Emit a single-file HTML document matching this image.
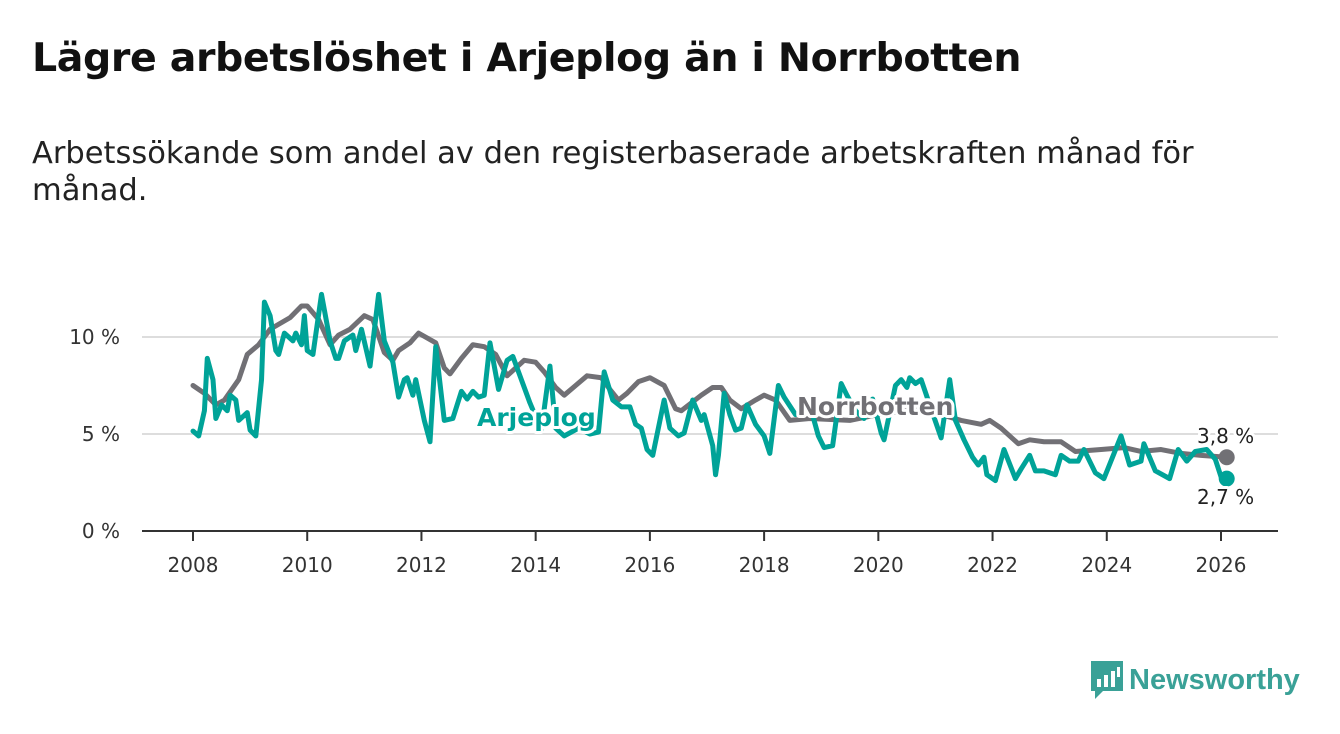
<!DOCTYPE html>
<html><head><meta charset="utf-8"><style>
body{margin:0;background:#fff;width:1340px;height:734px;overflow:hidden;font-family:"Liberation Sans","DejaVu Sans",sans-serif}
h1{position:absolute;left:32px;top:35px;margin:0;font-size:39.5px;font-weight:bold;color:#111;font-family:"DejaVu Sans",sans-serif;letter-spacing:-0.4px}
p{position:absolute;left:32px;top:135px;margin:0;font-size:30.5px;line-height:37px;color:#222;width:1220px;font-family:"DejaVu Sans",sans-serif}
</style></head><body>
<h1>Lägre arbetslöshet i Arjeplog än i Norrbotten</h1>
<p>Arbetssökande som andel av den registerbaserade arbetskraften månad för månad.</p>
<svg id="chart" width="1340" height="734" style="position:absolute;left:0;top:0" font-family="DejaVu Sans, sans-serif"></svg>
<div style="position:absolute;left:1089px;top:660px;height:40px;display:flex;align-items:center">
<svg width="36" height="42" viewBox="0 0 36 42"><path d="M2 2h32v30H14l-8 8v-8H2z" fill="#3aa197"/><rect x="8" y="20" width="4" height="8" fill="#fff"/><rect x="15" y="16" width="4" height="12" fill="#fff"/><rect x="22" y="12" width="4" height="16" fill="#fff"/><rect x="28" y="8" width="3" height="10" fill="#fff"/></svg>
<span style="font-size:29px;color:#3aa197;margin-left:4px;font-weight:bold;font-family:'Liberation Sans',sans-serif">Newsworthy</span></div>
<script>
const gDates=[2008.0,2008.2,2008.4,2008.55,2008.8,2008.95,2009.15,2009.35,2009.7,2009.9,2010.0,2010.2,2010.4,2010.55,2010.75,2011.0,2011.15,2011.35,2011.5,2011.6,2011.8,2011.95,2012.25,2012.4,2012.5,2012.7,2012.9,2013.1,2013.3,2013.5,2013.65,2013.8,2014.0,2014.15,2014.35,2014.5,2014.7,2014.9,2015.15,2015.3,2015.45,2015.6,2015.8,2016.0,2016.25,2016.45,2016.55,2016.9,2017.1,2017.25,2017.4,2017.6,2017.85,2018.0,2018.2,2018.45,2018.8,2019.5,2020.0,2020.75,2021.1,2021.45,2021.8,2021.95,2022.15,2022.45,2022.65,2022.9,2023.2,2023.45,2023.9,2024.3,2024.6,2024.95,2025.3,2025.65,2026.1];
const norrbotten=[7.5,7.1,6.5,6.75,7.8,9.1,9.6,10.4,11.0,11.6,11.6,10.9,9.6,10.1,10.4,11.1,10.9,9.2,8.8,9.3,9.7,10.2,9.7,8.4,8.1,8.9,9.6,9.5,9.1,8.0,8.4,8.8,8.7,8.2,7.4,7.0,7.5,8.0,7.9,7.3,6.75,7.1,7.7,7.9,7.5,6.3,6.2,7.0,7.4,7.4,6.75,6.3,6.75,7.0,6.75,5.7,5.8,5.7,6.0,6.3,6.0,5.7,5.5,5.7,5.3,4.5,4.7,4.6,4.6,4.1,4.2,4.3,4.1,4.2,4.0,3.9,3.8];
const aDates=[2008.0,2008.1,2008.2,2008.25,2008.35,2008.4,2008.5,2008.6,2008.65,2008.75,2008.8,2008.95,2009.0,2009.1,2009.2,2009.25,2009.35,2009.45,2009.5,2009.6,2009.75,2009.8,2009.9,2009.95,2010.0,2010.1,2010.25,2010.4,2010.5,2010.55,2010.65,2010.8,2010.85,2010.95,2011.1,2011.25,2011.35,2011.5,2011.6,2011.7,2011.75,2011.85,2011.9,2012.05,2012.15,2012.25,2012.4,2012.55,2012.7,2012.8,2012.9,2013.0,2013.1,2013.2,2013.35,2013.5,2013.6,2013.75,2013.9,2014.1,2014.25,2014.35,2014.5,2014.75,2014.95,2015.1,2015.2,2015.35,2015.5,2015.65,2015.75,2015.85,2015.95,2016.05,2016.25,2016.35,2016.5,2016.6,2016.75,2016.9,2016.95,2017.1,2017.15,2017.2,2017.3,2017.4,2017.5,2017.6,2017.7,2017.85,2018.0,2018.1,2018.25,2018.35,2018.55,2018.8,2018.95,2019.05,2019.2,2019.35,2019.45,2019.6,2019.75,2019.9,2020.05,2020.1,2020.3,2020.4,2020.5,2020.55,2020.65,2020.75,2020.9,2021.1,2021.25,2021.35,2021.5,2021.65,2021.75,2021.85,2021.9,2022.05,2022.2,2022.4,2022.5,2022.65,2022.75,2022.9,2023.1,2023.2,2023.35,2023.5,2023.6,2023.8,2023.95,2024.25,2024.4,2024.6,2024.65,2024.85,2025.1,2025.25,2025.4,2025.55,2025.75,2025.9,2026.0,2026.1];
const arjeplog=[5.15,4.9,6.2,8.9,7.8,5.8,6.5,6.2,7.0,6.75,5.7,6.1,5.2,4.9,7.8,11.8,11.1,9.3,9.1,10.2,9.8,10.2,9.6,11.1,9.3,9.1,12.2,9.8,8.9,8.9,9.8,10.1,9.3,10.4,8.5,12.2,9.8,8.7,6.9,7.8,7.9,7.0,7.8,5.7,4.6,9.5,5.7,5.8,7.2,6.8,7.2,6.9,7.0,9.7,7.3,8.8,9.0,7.8,6.6,5.2,8.5,5.3,4.9,5.3,5.0,5.1,8.2,6.75,6.4,6.4,5.5,5.3,4.2,3.9,6.75,5.3,4.9,5.05,6.75,5.7,6.0,4.4,2.9,3.9,7.1,6.0,5.2,5.3,6.5,5.5,4.9,4.0,7.5,6.9,6.0,6.5,4.9,4.3,4.4,7.6,7.0,6.2,5.8,6.8,5.05,4.7,7.5,7.8,7.4,7.9,7.6,7.8,6.5,4.8,7.8,5.7,4.7,3.8,3.4,3.8,2.9,2.6,4.2,2.7,3.2,3.9,3.1,3.1,2.9,3.9,3.6,3.6,4.2,3.0,2.7,4.9,3.4,3.6,4.5,3.1,2.7,4.2,3.6,4.1,4.2,3.7,2.8,2.7];
const yTicks=[0,5,10];
const yTickLabels=["0 %","5 %","10 %"];
const xTicks=[2008,2010,2012,2014,2016,2018,2020,2022,2024,2026];
const NS="http://www.w3.org/2000/svg";
const svg=document.getElementById('chart');
const X=d=>193+(d-2008)*(1028/18);
const Y=v=>531-v*19.4;
function mk(t,a){const e=document.createElementNS(NS,t);for(const k in a)e.setAttribute(k,a[k]);svg.appendChild(e);return e;}
yTicks.forEach((v,i)=>{
 if(v>0){const l=mk('line',{x1:142,x2:1278,y1:Y(v),y2:Y(v),stroke:'#ddd','stroke-width':2});
 
 }
 const t=mk('text',{x:120,y:Y(v)+7,'text-anchor':'end','font-size':20,fill:'#333'});t.textContent=yTickLabels[i];
 
 
});
const ax=mk('line',{x1:142,x2:1278,y1:Y(0),y2:Y(0),stroke:'#333','stroke-width':2});


xTicks.forEach(y=>{
 const tk=mk('line',{x1:X(y),x2:X(y),y1:Y(0),y2:Y(0)+10,stroke:'#333','stroke-width':2});
 
 
 const t=mk('text',{x:X(y),y:572,'text-anchor':'middle','font-size':20,fill:'#333'});t.textContent=y;
 
 
});
function line(ds,vs,c,name){
 const p=mk('polyline',{points:ds.map((d,i)=>X(d)+','+Y(vs[i])).join(' '),fill:'none',stroke:c,'stroke-width':5,'stroke-linejoin':'round','stroke-linecap':'round'});
 
 
}
line(gDates,norrbotten,'#717075','norrbotten-line');
line(aDates,arjeplog,'#00a398','arjeplog-line');
const gd=mk('circle',{cx:X(gDates[gDates.length-1]),cy:Y(norrbotten[norrbotten.length-1]),r:8,fill:'#717075'});


const ad=mk('circle',{cx:X(aDates[aDates.length-1]),cy:Y(arjeplog[arjeplog.length-1]),r:8,fill:'#00a398'});


function lab(x,y,txt,c,name,w,size){
 const t=mk('text',{x:x,y:y,'font-size':size,'font-weight':w,fill:c,stroke:'#fff','stroke-width':6,'paint-order':'stroke','stroke-linejoin':'round'});t.textContent=txt;
 
 
}
lab(477,426,'Arjeplog','#00a398','arjeplog-label','bold',25);
lab(797,415,'Norrbotten','#717075','norrbotten-label','bold',25);
lab(1197,443,'3,8 %','#222','norrbotten-end-value','normal',20);
lab(1197,504,'2,7 %','#222','arjeplog-end-value','normal',20);
</script>
</body></html>
